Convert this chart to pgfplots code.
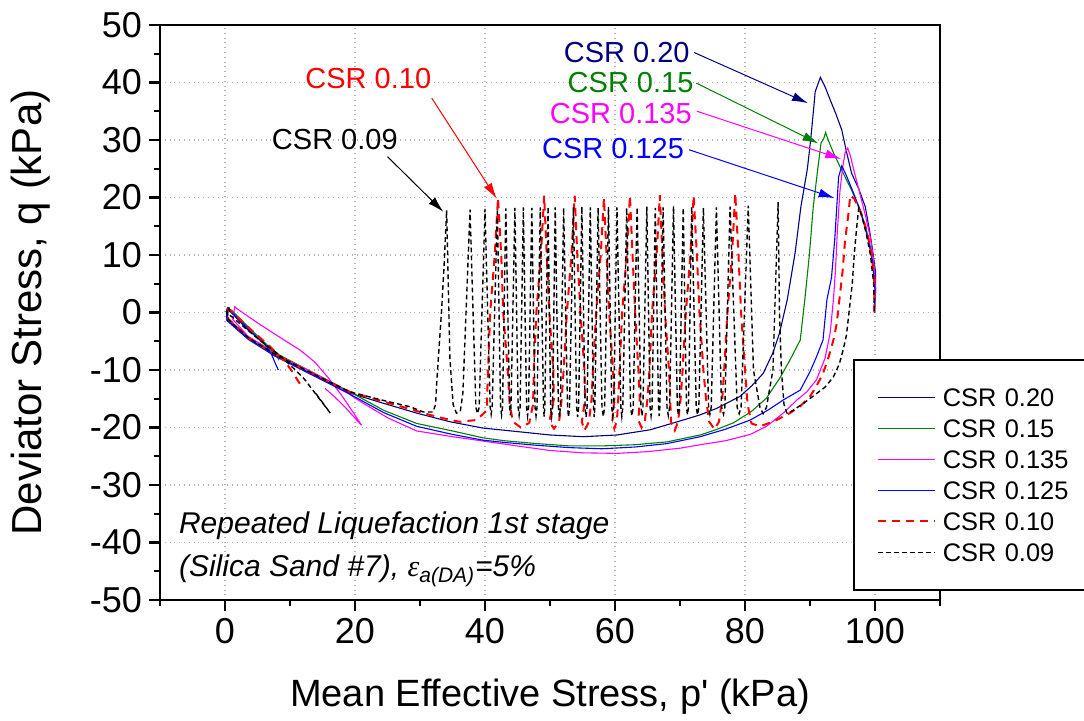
\documentclass[border=0pt]{standalone}
\usepackage{fontspec}
\setmainfont{Liberation Sans}
\usepackage{pgfplots}
\pgfplotsset{compat=1.18}
\usetikzlibrary{arrows.meta}
\definecolor{cnavy}{RGB}{0,0,128}
\definecolor{cgreen}{RGB}{0,128,0}
\definecolor{cmag}{RGB}{255,0,255}
\definecolor{cblue}{RGB}{0,0,255}
\definecolor{cred}{RGB}{255,0,0}
\begin{document}
\begin{tikzpicture}
\begin{axis}[
  scale only axis, width=390pt, height=287.5pt,
  xmin=-10, xmax=110, ymin=-50, ymax=50,
  xtick={0,20,...,100}, ytick={-50,-40,...,50},
  minor xtick={-10,10,30,50,70,90,110},
  minor ytick={-45,-35,...,45},
  tick pos=left, tick align=outside,
  major tick length=5.5pt, minor tick length=3pt,
  every tick/.style={black, line width=1.1pt},
  axis line style={line width=1.2pt},
  grid=major,
  major grid style={dotted, black!30, line width=0.7pt},
  /pgf/number format/assume math mode=true,
  tick label style={font=\fontsize{18}{20}\selectfont},
  every axis x label/.style={at={(axis description cs:0.5,-0.1678)}, anchor=center, font=\fontsize{19}{22}\selectfont},
  every axis y label/.style={at={(axis description cs:-0.1654,0.5)}, rotate=90, anchor=center, font=\fontsize{21}{24}\selectfont},
  xlabel={Mean Effective Stress, p\textquotesingle{} (kPa)},
  ylabel={Deviator Stress, q (kPa)},
  legend style={at={(0.8885,0.419)}, anchor=north west, draw=black, line width=0.75pt, fill=white,
    inner xsep=11.5pt, inner ysep=11pt,
    nodes={inner sep=0pt, text height=12.3pt, text depth=3.2pt, font=\fontsize{12.7}{15.5}\selectfont},
    /tikz/every odd column/.append style={column sep=3.5pt},
    /tikz/every even column/.append style={text width=75pt}},
  legend cell align=left,
  legend image code/.code={\draw[#1] (0pt,0pt) -- (28.5pt,0pt);},
]
% CSR 0.20
\addplot[cnavy, line width=0.55pt] coordinates {
(99.9,0) (100.1,4) (100.1,6.9) (99.7,10.3) (99.2,14) (98.5,18.4) (97.5,21.5) (96.4,24.2) (95.6,28) (94.9,31.7) (94,34.5) (93.1,37) (92.3,39.3) (91.6,40.9) (90.8,38.4) (90.6,35.9) (90.1,30) (89.6,25) (88.6,18.4) (87.7,10.3) (86.5,2.2) (85.3,-3.6) (84.3,-7) (82.8,-10.6) (81,-12.8) (79.2,-14.6) (75.6,-16.7) (73.1,-17.8) (70.5,-18.7) (65.4,-20.4) (60.3,-21.3) (55.1,-21.6) (50,-21.3) (44.9,-20.7) (39.7,-20.1) (34.6,-19) (29.5,-17.5) (24.4,-15.8) (19.2,-14) (13.8,-10.9) (7.7,-7.4) (3.6,-4.5) (0.3,-1.3) (0.2,0.2) (0.4,0.8) (0.7,0.3) (3.5,-3) (6.5,-5.8) (8.2,-7.2)
};
\addlegendentry{CSR 0.20}
% CSR 0.15
\addplot[cgreen, line width=0.55pt] coordinates {
(99.9,0) (100,4) (99.7,8) (99.2,12) (98.4,15.5) (97.5,18.5) (96.3,21.5) (95.3,23.8) (94.6,25.4) (93.6,27.8) (92.8,30) (92.4,31.3) (92.1,30.2) (91.7,29.5) (91.2,25) (90.5,18.4) (89.9,10) (89.2,2.2) (88.5,-4.8) (86.9,-8.3) (85.3,-11.5) (83.3,-14.9) (81,-17.2) (78.2,-19.2) (75.5,-20.4) (73.1,-21.3) (68,-22.5) (63,-23) (58,-23.2) (53,-23.2) (48,-22.8) (43,-22.3) (39.7,-21.8) (35,-20.6) (29.5,-19.3) (24.4,-17) (19.2,-13.8) (13.8,-10.6) (7.7,-7.0) (3.6,-4.2) (0.4,-1.1) (0.5,0.7) (1,0.4) (4,-3) (7,-6.2) (7.9,-7.3) (8.3,-8.3)
};
\addlegendentry{CSR 0.15}
% CSR 0.135
\addplot[cmag, line width=0.55pt] coordinates {
(99.9,0) (100.1,4) (99.8,9) (99.3,13) (98.5,17) (97.6,21) (96.8,24.5) (96.2,27.3) (95.8,28.6) (95.4,27.8) (95,25) (94.6,21) (94.2,14) (93.9,7) (93.6,2.2) (93.1,-3.6) (92.3,-8) (91,-11.7) (89.5,-13.8) (88,-15.2) (86,-17.4) (83.3,-19.8) (80.8,-21.2) (77,-22.3) (73.1,-23) (70,-23.6) (65,-24.2) (60.3,-24.5) (55,-24.4) (50,-24) (44.9,-23.2) (40,-22.4) (35,-21.6) (29.5,-20.6) (25,-18.3) (21,-15.6) (17,-12.6) (13.8,-10.6) (7.7,-7.2) (3.6,-4.2) (1.2,-1.2) (1.5,1) (1.8,0.7) (5,-1.8) (8.7,-4.5) (11.5,-6.5) (13.8,-8.6) (16,-11.5) (18,-14.5) (19.8,-17.5) (21,-19.6) (18.5,-16.5) (16.8,-14.6) (15.4,-13.2)
};
\addlegendentry{CSR 0.135}
% CSR 0.125
\addplot[cblue, line width=0.55pt] coordinates {
(99.9,0) (100,4) (99.6,9) (98.9,13) (97.9,17) (96.8,20.5) (95.6,23.8) (94.9,25.5) (94.4,23.6) (94.1,18) (93.8,12.6) (93.3,6) (92.6,2.2) (92,-4.8) (91,-7.7) (90,-10.3) (88.5,-13.5) (85.9,-15.2) (83.5,-17) (80.8,-18.7) (77,-20.3) (73.1,-21.6) (68,-22.8) (63,-23.4) (58,-23.7) (53,-23.5) (48,-23.1) (43,-22.6) (39.7,-22.2) (35,-21.2) (29.5,-19.8) (24.4,-17.4) (19.2,-14.2) (13.8,-11.1) (7.7,-7.6) (3.6,-4.7) (0.3,-1.4) (0.4,0.6) (0.9,0.2) (4,-3.3) (6.5,-6) (7.2,-7.4) (7.8,-9) (8.2,-10)
};
\addlegendentry{CSR 0.125}
% CSR 0.10
\addplot[cred, line width=1pt, dash pattern=on 4pt off 3pt] coordinates {
(99.9,0) (99.9,5) (99.5,10) (98.8,14) (97.8,17.5) (96.8,19.8) (96.2,20.4) (95.9,17) (95.4,12.6) (95,7) (94.5,2) (94.1,-2) (93.6,-4.8) (92.8,-8) (92,-10.6) (91,-12.8) (90,-14.6) (88.5,-16.3) (86.9,-17.5) (84.5,-18.9) (82.3,-19.8) (81,-19.3)
(80.4,-16) (80.0,-10) (79.4,0) (79.0,10) (78.5,20.7)
(78.0,10) (77.3,0) (76.8,-10) (76.5,-15) (76.0,-19) (75.3,-20.3) (74.5,-19) (74.0,-15)
(73.6,-10) (73.0,0) (72.6,10) (72.1,20.3)
(71.6,10) (70.9,0) (70.4,-10) (70.1,-15) (69.7,-19) (69.2,-20.5) (68.6,-19) (68.5,-15)
(68.3,-10) (67.7,0) (67.3,10) (66.9,20.4)
(66.4,10) (65.7,0) (65.3,-10) (65.0,-15) (64.6,-18.8) (64.1,-20) (63.6,-18.8) (63.8,-15)
(63.6,-10) (63.1,0) (62.7,10) (62.3,20.3)
(61.8,10) (61.1,0) (60.7,-10) (60.5,-15) (60.3,-18.8) (59.9,-20.2) (59.6,-18.8) (59.9,-15)
(59.7,-10) (59.1,0) (58.7,10) (58.3,19.9)
(57.8,10) (57.1,0) (56.6,-10) (56.4,-15) (56.0,-19) (55.3,-20.5) (54.9,-19) (55.4,-15)
(55.3,-10) (54.7,0) (54.2,10) (53.8,20.3)
(53.3,10) (52.6,0) (52.1,-10) (51.8,-15) (51.4,-19) (50.6,-20.2) (49.9,-19) (50.6,-15)
(50.5,-10) (49.9,0) (49.5,10) (49.1,20.3)
(48.6,10) (47.9,0) (47.5,-10) (47.4,-16) (46.8,-19.2) (45.5,-20) (44.3,-19) (43.8,-16)
(43.5,-10) (42.8,0) (42.5,10) (42.0,19.9)
(41.5,10) (40.8,0) (40.4,-12) (40.3,-17) (38.7,-18.7) (36,-19) (33.6,-18.4) (31.5,-17.8) (28.5,-16.8) (24.4,-15.5) (19.2,-13.8) (13.8,-10.8) (7.7,-7.3) (3.6,-4.4) (0.5,-1.1) (0.4,0.5) (0.9,0.3) (4,-3) (7,-6) (9.4,-8.8) (10.3,-10.2) (11.8,-12.9)
};
\addlegendentry{CSR 0.10}
% CSR 0.09
\addplot[black, line width=0.7pt, dash pattern=on 2.4pt off 1.6pt] coordinates {
(99.9,0.3) (99.8,5) (99.3,10) (98.6,14) (97.9,17) (97.5,18.2) (97.2,15) (96.8,10) (96.5,5) (96.2,2) (95.6,-4) (95.1,-6.5) (94.5,-9) (93.6,-11.2) (92.3,-13) (91,-14.1) (89,-15.8) (87.4,-17) (86.5,-17.6) (86,-16) (85.6,-10) (85.3,0) (85.2,10) (85.1,19.2)
(84.3,-10) (83.3,-16.5) (82.8,-17.6) (82.3,-16.5) (81.3,-10) (80.5,18.6)
(79.4,-16.5) (79.1,-17.6) (78.8,-16.5) (77.7,18.4)
(76.9,-16.5) (76.7,-17.7) (76.4,-16.5) (75.6,18.3)
(74.8,-16.5) (74.6,-17.7) (74.4,-16.5) (73.6,18.2)
(72.9,-16.5) (72.7,-17.8) (72.5,-16.5) (71.8,18.4)
(71.3,-16.5) (71.15,-17.8) (71.0,-16.5) (70.5,18.2)
(69.9,-16.5) (69.75,-17.9) (69.6,-16.5) (69.0,18.5)
(68.4,-16.5) (68.2,-17.9) (68.0,-16.5) (67.4,18.3)
(66.9,-16.5) (66.8,-18) (66.7,-16.5) (66.2,18.2)
(65.7,-16.5) (65.55,-18) (65.4,-16.5) (64.9,18.4)
(64.3,-16.5) (64.15,-18) (64.0,-16.5) (63.4,18.3)
(62.8,-16.5) (62.6,-18) (62.4,-16.5) (61.8,18.2)
(61.2,-16.5) (61.05,-18.1) (60.9,-16.5) (60.3,18.3)
(59.8,-16.5) (59.65,-18.1) (59.5,-16.5) (59.0,18.4)
(58.4,-16.5) (58.2,-18.1) (58.0,-16.5) (57.4,18.2)
(56.9,-16.5) (56.8,-18.2) (56.7,-16.5) (56.2,18.3)
(55.7,-16.5) (55.55,-18.2) (55.4,-16.5) (54.9,18.4)
(54.4,-16.5) (54.25,-18.2) (54.1,-16.5) (53.6,18.3)
(53.0,-16.5) (52.85,-18.2) (52.7,-16.5) (52.1,18.2)
(51.6,-16.5) (51.45,-18.2) (51.3,-16.5) (50.8,18.3)
(50.4,-16.5) (50.25,-18.1) (50.1,-16.5) (49.7,18.4)
(49.2,-16.5) (49.1,-18.1) (49.0,-16.5) (48.5,18.3)
(48.0,-16.5) (47.85,-18) (47.7,-16.5) (47.2,18.2)
(46.7,-16.5) (46.55,-18) (46.4,-16.5) (45.9,18.3)
(45.4,-16.5) (45.25,-17.9) (45.1,-16.5) (44.6,18.2)
(44.0,-16.5) (43.9,-17.9) (43.8,-16.5) (43.2,18.1)
(42.7,-16.5) (42.55,-17.8) (42.4,-16.5) (41.9,18.0)
(41.1,-16.5) (40.95,-17.7) (40.8,-16.5) (40.0,18.0)
(39.1,-16.5) (38.85,-17.6) (38.6,-16.5) (37.7,17.9)
(36.6,-14) (36.2,-17.2) (35.6,-17.5) (35.1,-16) (34.6,-8) (34.1,17.8)
(33.7,8) (33.3,0) (32.6,-11.7) (32.4,-16) (32,-17.3) (30.5,-17.3) (28.5,-16.4) (24.4,-15.3) (19.2,-13.8) (13.8,-10.8) (7.7,-7.3) (3.6,-4.4) (0.5,-1.2) (0.3,0.6) (0.6,0.8) (0.8,-0.5) (5,-4.5) (9,-8) (12,-11.3) (12.5,-12) (16.2,-17.5) (13.8,-13.8)
};
\addlegendentry{CSR 0.09}
% annotations
\tikzset{annot/.style={font=\fontsize{14.5}{17}\selectfont}, arr/.style={line width=0.5pt, -{Latex[length=8pt,width=4.5pt]}}}
\node[annot, cnavy] at (axis cs:61.8,45.2) {CSR 0.20};
\draw[arr, cnavy] (axis cs:72.2,45.2) -- (axis cs:89.7,36.4);
\node[annot, cgreen] at (axis cs:62.4,40.0) {CSR 0.15};
\draw[arr, cgreen] (axis cs:72.5,39.9) -- (axis cs:91.3,29.4);
\node[annot, cmag] at (axis cs:60.9,34.6) {CSR 0.135};
\draw[arr, cmag] (axis cs:72.6,35.0) -- (axis cs:94.8,26.7);
\node[annot, cblue] at (axis cs:59.7,28.6) {CSR 0.125};
\draw[arr, cblue] (axis cs:71.4,28.3) -- (axis cs:93.8,19.9);
\node[annot, cred] at (axis cs:22.05,40.7) {CSR 0.10};
\draw[arr, cred] (axis cs:31.8,37.3) -- (axis cs:41.8,19.8);
\node[annot, black] at (axis cs:16.9,30.1) {CSR 0.09};
\draw[arr, black] (axis cs:25,27.1) -- (axis cs:33.6,17.5);
\node[anchor=base west, font=\fontsize{15}{18}\selectfont\itshape] at (axis cs:-8.15,-38.47) {Repeated Liquefaction 1st stage};
\node[anchor=base west, font=\fontsize{15}{18}\selectfont\itshape] at (axis cs:-8.15,-45.95) {(Silica Sand \#7), {\fontspec{Liberation Serif}\itshape ε}\textsubscript{a(DA)}=5\%};
\end{axis}
\pgfresetboundingbox
\path[use as bounding box] ([shift={(-80pt,-60pt)}]current axis.south west) rectangle ([shift={(72pt,12.5pt)}]current axis.north east);
\end{tikzpicture}
\end{document}
